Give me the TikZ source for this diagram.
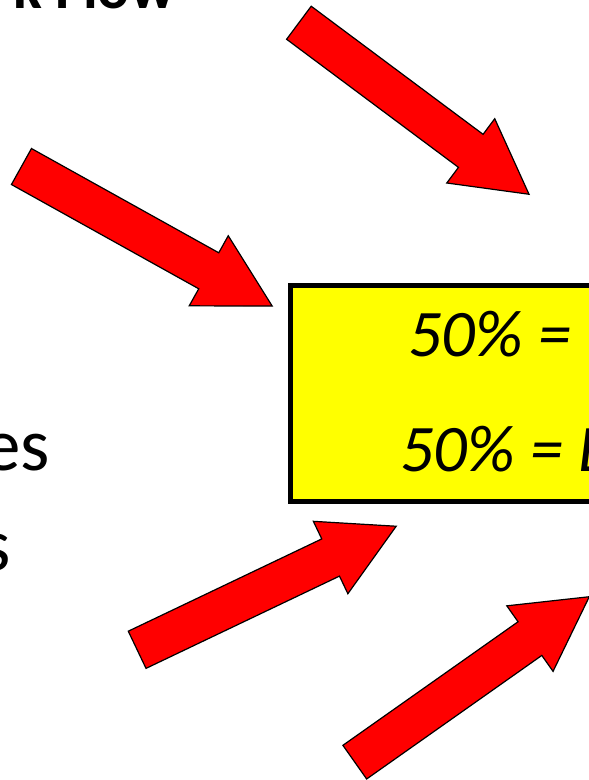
\documentclass[tikz,border=0pt]{standalone}
\usepackage{fontspec}
\setmainfont{Carlito}
\usetikzlibrary{shapes.arrows, positioning}
\definecolor{arrowred}{HTML}{FF0000}
\definecolor{boxyellow}{HTML}{FFFF00}
\tikzset{
  % Red block arrows
  bigarrow/.style={
    single arrow, draw=black, fill=arrowred, line width=1.2pt,
    minimum height=287pt, minimum width=79pt,
    inner xsep=0pt, inner ysep=20pt,
    single arrow head extend=19.5pt, single arrow tip angle=57.8,
    single arrow head indent=0pt, rotate=#1, anchor=tip,
  },
  % Yellow box
  yellowbox/.style={
    draw=black, fill=boxyellow, line width=5pt,
    minimum width=600pt, minimum height=216.5pt, inner sep=0pt,
  },
  % Texts
  boxtext/.style={font=\fontsize{66.5}{72}\selectfont\itshape, inner sep=0pt},
  bodytext/.style={font=\fontsize{75}{90}\selectfont, inner sep=0pt},
  titletext/.style={font=\fontsize{60}{66}\selectfont\bfseries, inner sep=0pt},
}

\begin{document}
\begin{tikzpicture}[x=1pt, y=-1pt]
\useasboundingbox (0,0) rectangle (589,780);
\clip (0,0) rectangle (589,780);

% ====================================================================
% Title and left texts (cut by the frame)
% ====================================================================
\node[titletext, anchor=base west] (title) at (13,8) {k Flow};
\node[bodytext, anchor=base east] (left1) at (50,470) {es};
\node[bodytext, anchor=base east] (left2) at (11,570) {s};

% ====================================================================
% Yellow box
% ====================================================================
\node[yellowbox, anchor=north west] (box) at (287.5,282.5) {};
\node[boxtext, anchor=base west] (line1) at (408,356) {50\% = I};
\node[boxtext, anchor=base west] (line2) at (400,471) {50\% = E};

% ====================================================================
% Arrows (placed by their tips)
% ====================================================================
\node[bigarrow=-36.7] (arrowA) at (530,195) {};
\node[bigarrow=-29.1] (arrowB) at (273.3,306.7) {};
\node[bigarrow=25.5] (arrowC) at (397.3,525.7) {};
\node[bigarrow=35.2] (arrowD) at (590.3,596) {};

\end{tikzpicture}
\end{document}
